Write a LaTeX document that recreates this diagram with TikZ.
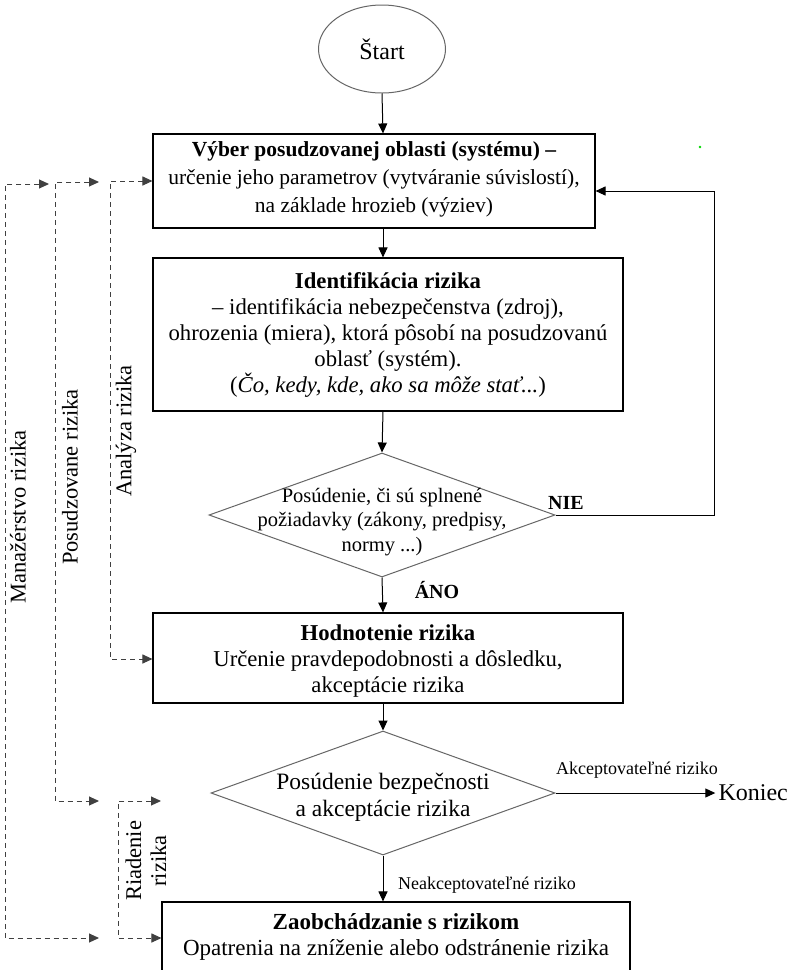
\documentclass[tikz,border=0pt]{standalone}
\usepackage{fontspec}
\setmainfont{Liberation Serif}
\usetikzlibrary{shapes.geometric,arrows.meta}
\begin{document}
\begin{tikzpicture}[x=1pt,y=-1pt,
  box/.style={draw=black, line width=1.1pt, inner sep=0pt, rectangle},
  btext/.style={align=center, inner sep=0pt},
  fa/.style={font=\fontsize{21.5}{28}\selectfont},
  fb/.style={font=\fontsize{22.7}{26}\selectfont},
  dia/.style={draw=black!60, line width=1pt, diamond, inner sep=0pt},
  arr/.style={draw=black, line width=1pt, -{Triangle[length=10pt,width=9pt]}},
  dsh/.style={draw=black!75, line width=1pt, dash pattern=on 5pt off 4pt,
     {Triangle[length=10pt,width=9pt]}-{Triangle[length=10pt,width=9pt]}},
  small/.style={font=\fontsize{18}{21}\selectfont, inner sep=0pt},
  bl/.style={font=\fontsize{20}{22}\selectfont\bfseries, inner sep=0pt},
  side/.style={font=\fontsize{22.5}{25}\selectfont, rotate=90, inner sep=0pt}]
\useasboundingbox (0,0) rectangle (791,970);
\fill[white] (0,0) rectangle (791,970);

% start
\node[ellipse, draw=black!60, line width=1pt, minimum width=127pt, minimum height=88pt, inner sep=0pt,
  font=\fontsize{24}{26}\selectfont] (start) at (382,49) {Štart};
\coordinate (ax) at (383,0);

% box 1
\node[box, minimum width=442pt, minimum height=94pt] (b1) at (374,181) {};
\node[btext, fa] (b1t) at (374,179) {\textbf{Výber posudzovanej oblasti (systému) –}\\určenie jeho parametrov (vytváranie súvislostí),\\na základe hrozieb (výziev)};

% box 2
\node[box, minimum width=470pt, minimum height=153pt] (b2) at (388,334.5) {};
\node[btext, fb] (b2t) at (388,334.5) {\textbf{Identifikácia rizika}\\– identifikácia nebezpečenstva (zdroj),\\ohrozenia (miera), ktorá pôsobí na posudzovanú\\oblasť (systém).\\(\textit{Čo, kedy, kde, ako sa môže stať...})};

% decision 1
\node[dia, minimum width=346pt, minimum height=124pt] (d1) at (382,515) {};
\node[btext, font=\fontsize{20.5}{24.5}\selectfont] (d1t) at (382,522) {Posúdenie, či sú splnené\\požiadavky (zákony, predpisy,\\normy ...)};

% box 3
\node[box, minimum width=470pt, minimum height=90pt] (b3) at (388,658) {};
\node[btext, fb] (b3t) at (388,661) {\textbf{Hodnotenie rizika}\\Určenie pravdepodobnosti a dôsledku,\\akceptácie rizika};

% decision 2
\node[dia, minimum width=344pt, minimum height=124pt] (d2) at (383,793) {};
\node[btext, font=\fontsize{23.5}{27}\selectfont] (d2t) at (383,797) {Posúdenie bezpečnosti\\a akceptácie rizika};

% box 4
\node[box, minimum width=468pt, minimum height=100pt] (b4) at (396,952) {};
\node[btext, font=\fontsize{23}{26}\selectfont] (b4t) at (396,937) {\textbf{Zaobchádzanie s rizikom}\\Opatrenia na zníženie alebo odstránenie rizika};

\node[font=\fontsize{24}{26}\selectfont, inner sep=0pt, anchor=east] (kon) at (788,793) {Koniec};

% main arrows
\draw[arr] (start.south) -- (ax |- b1.north);
\draw[arr] (ax |- b1.south) -- (ax |- b2.north);
\draw[arr] (ax |- b2.south) -- (d1.north);
\draw[arr] (d1.south) -- (ax |- b3.north);
\draw[arr] (ax |- b3.south) -- (d2.north);
\draw[arr] (d2.south) -- (d2.south |- b4.north);
\draw[arr] (d2.east) -- ([xshift=-3pt]kon.west);

% NIE loop
\coordinate (loopx) at (714,0);
\draw[arr] (d1.east) -- (d1.east -| loopx) |- ([yshift=-10pt]b1.east);

% labels
\node[bl] (nie) at (566,503) {NIE};
\node[bl] (ano) at (437,590) {ÁNO};
\path (d2.east) -- (kon.west) node[small, midway, yshift=23pt] (akc) {Akceptovateľné riziko};
\node[small, anchor=west] (neak) at (398,885) {Neakceptovateľné riziko};

% dashed brackets
\coordinate (a1) at (5,184); \coordinate (a1t) at (49,184);
\coordinate (a2) at (5,938); \coordinate (a2t) at (99,938);
\draw[dsh] (a1t) -- (a1) -- (a2) -- (a2t);
\coordinate (p1) at (55,182); \coordinate (p1t) at (99,182);
\coordinate (p2) at (55,801); \coordinate (p2t) at (99,801);
\draw[dsh] (p1t) -- (p1) -- (p2) -- (p2t);
\coordinate (c1) at (110,181); \coordinate (c2) at (110,659);
\draw[dsh] (c1 -| b1.west) -- (c1) -- (c2) -- (c2 -| b3.west);
\coordinate (r1) at (118,801); \coordinate (r1t) at (161,801);
\coordinate (r2) at (118,938);
\draw[dsh] (r1t) -- (r1) -- (r2) -- (r2 -| b4.west);

\node[side] (lm) at (18,517) {Manažérstvo rizika};
\node[side] (lp) at (70,477) {Posudzovane rizika};
\node[side] (la) at (126,431) {Analýza rizika};
\node[side, align=center] (lr) at (146,861) {Riadenie\\rizika};

\fill[green!85!black] (700,147) circle (1.3pt);
\end{tikzpicture}
\end{document}
